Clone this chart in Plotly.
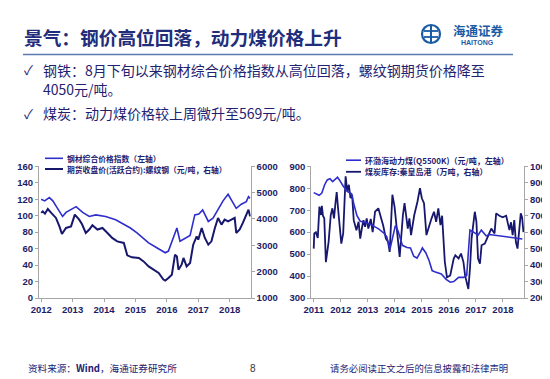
import plotly.graph_objects as go

W, H = 550, 379

# ---------------- data ----------------
# Left chart: time in decimal years
steel_t = [2012.00, 2012.11, 2012.26, 2012.37, 2012.47, 2012.68, 2012.79, 2012.89, 2013.11, 2013.32,
           2013.53, 2013.74, 2014.05, 2014.37, 2014.63, 2014.84, 2015.05, 2015.42, 2015.68, 2015.95,
           2016.05, 2016.21, 2016.32, 2016.42, 2016.58, 2016.74, 2016.89, 2017.02, 2017.14, 2017.32,
           2017.47, 2017.63, 2017.79, 2017.95, 2018.11, 2018.21, 2018.37, 2018.53, 2018.60, 2018.65]
steel_index = [120, 118, 122, 118, 112, 99, 104, 106, 111, 104,
               99, 101, 99, 95, 89, 85, 79, 67, 61, 55,
               57, 75, 85, 69, 73, 76, 101, 102, 107, 93,
               97, 107, 118, 126, 115, 109, 114, 117, 123, 121]

rebar_t = [2012.00, 2012.05, 2012.12, 2012.21, 2012.32, 2012.47, 2012.58, 2012.66, 2012.79, 2012.95,
           2013.07, 2013.21, 2013.30, 2013.42, 2013.53, 2013.63, 2013.79, 2013.95, 2014.11, 2014.26,
           2014.42, 2014.63, 2014.74, 2014.89, 2015.11, 2015.26, 2015.42, 2015.58, 2015.74, 2015.89,
           2015.95, 2016.05, 2016.16, 2016.26, 2016.32, 2016.37, 2016.47, 2016.53, 2016.63, 2016.74,
           2016.84, 2016.95, 2017.00, 2017.11, 2017.21, 2017.32, 2017.42, 2017.53, 2017.63, 2017.74,
           2017.84, 2017.95, 2018.05, 2018.16, 2018.21, 2018.32, 2018.42, 2018.53, 2018.60, 2018.65]
rebar_price = [4230, 4290, 4200, 4380, 4230, 4040, 3720, 3430, 3660, 3720,
               4165, 3975, 3800, 3470, 3600, 3760, 3600, 3660, 3470, 3280,
               3150, 3090, 2620, 2545, 2520, 2390, 2200, 2075, 1950, 1700,
               1660, 1760, 1885, 2645, 2580, 2075, 2265, 2520, 2200, 2330,
               3025, 3340, 3215, 3660, 3280, 3025, 3150, 3660, 4040, 3785,
               3975, 3910, 3975, 4040, 3470, 3600, 3850, 4165, 4355, 4100]

# Right chart
coal_t = [2011.00, 2011.10, 2011.20, 2011.30, 2011.40, 2011.50, 2011.60, 2011.70, 2011.80, 2011.88,
          2011.95, 2012.10, 2012.25, 2012.40, 2012.50, 2012.60, 2012.72, 2012.90, 2013.15, 2013.40,
          2013.60, 2013.70, 2013.82, 2013.92, 2014.02, 2014.12, 2014.28, 2014.45, 2014.58, 2014.70,
          2014.82, 2014.95, 2015.02, 2015.15, 2015.27, 2015.38, 2015.50, 2015.72, 2015.90, 2016.05,
          2016.18, 2016.36, 2016.55, 2016.66, 2016.78, 2016.90, 2017.08, 2017.20, 2017.38, 2017.50,
          2017.70, 2017.93, 2018.18, 2018.42, 2018.72]
coal_price = [780, 772, 768, 778, 815, 838, 843, 830, 842, 850,
              838, 808, 785, 775, 720, 675, 650, 645, 632, 615,
              595, 580, 522, 570, 630, 605, 540, 530, 528, 490,
              482, 510, 528, 505, 470, 425, 418, 410, 385, 372,
              375, 394, 394, 402, 609, 601, 586, 609, 583, 589,
              586, 583, 578, 574, 569]

stock_t = [2011.00, 2011.02, 2011.08, 2011.15, 2011.21, 2011.27, 2011.30, 2011.34, 2011.39, 2011.45,
           2011.55, 2011.63, 2011.69, 2011.75, 2011.81, 2011.85, 2011.90, 2011.97, 2012.02, 2012.09,
           2012.18, 2012.24, 2012.30, 2012.36, 2012.42, 2012.48, 2012.58, 2012.66, 2012.72, 2012.78,
           2012.84, 2012.90, 2012.96, 2013.02, 2013.11, 2013.18, 2013.27, 2013.39, 2013.47, 2013.57,
           2013.67, 2013.75, 2013.81, 2013.91, 2013.99, 2014.08, 2014.18, 2014.30, 2014.36, 2014.48,
           2014.54, 2014.60, 2014.72, 2014.84, 2014.93, 2015.00, 2015.08, 2015.17, 2015.27, 2015.36,
           2015.45, 2015.53, 2015.61, 2015.69, 2015.75, 2015.85, 2015.93, 2016.05, 2016.18, 2016.24,
           2016.36, 2016.45, 2016.54, 2016.60, 2016.66, 2016.72, 2016.78, 2016.84, 2016.90, 2016.96,
           2017.02, 2017.08, 2017.15, 2017.21, 2017.33, 2017.45, 2017.57, 2017.69, 2017.75, 2017.87,
           2017.99, 2018.12, 2018.24, 2018.30, 2018.36, 2018.42, 2018.48, 2018.54, 2018.60, 2018.66,
           2018.71, 2018.76]
stock_volume = [500, 592, 600, 565, 755, 704, 760, 700, 684, 418,
                541, 704, 745, 684, 786, 843, 745, 582, 530, 592,
                939, 847, 888, 806, 827, 673, 612, 663, 561, 622,
                673, 633, 684, 622, 680, 600, 724, 745, 700, 640,
                560, 541, 480, 827, 755, 620, 450, 704, 776, 622,
                684, 582, 704, 786, 867, 806, 776, 582, 643, 684,
                724, 663, 745, 643, 700, 420, 326, 337, 439, 459,
                440, 470, 418, 337, 296, 255, 378, 561, 643, 724,
                663, 439, 408, 520, 530, 582, 622, 592, 714, 700,
                690, 700, 612, 660, 582, 673, 540, 500, 600, 714,
                690, 600]

left_years = [2012, 2013, 2014, 2015, 2016, 2017, 2018]
right_years = [2011, 2012, 2013, 2014, 2015, 2016, 2017, 2018]
left_y_ticks = [0, 20, 40, 60, 80, 100, 120, 140, 160]
left_y2_ticks = [1000, 2000, 3000, 4000, 5000, 6000]
right_y_ticks = [300, 400, 500, 600, 700, 800, 900]
right_y2_ticks = [200, 300, 400, 500, 600, 700, 800, 900, 1000]

steel_name = "钢材综合价格指数（左轴）"
rebar_name = "期货收盘价(活跃合约):螺纹钢（元/吨，右轴）"
coal_name = "环渤海动力煤(Q5500K)（元/吨，左轴）"
stock_name = "煤炭库存:秦皇岛港（万吨，右轴）"

# ---------------- styling ----------------
C_LIGHT = "#2E2ECC"
C_DARK = "#17176E"
C_TICK = "#1C1C66"
C_AXIS = "#A6A6A6"
C_TEXT = "#1F2270"
CJK = "Noto Sans CJK SC, DejaVu Sans"
LAT = "Liberation Sans, Arial"


def px(x):
    return x / W


def py(y):
    return 1 - y / H


fig = go.Figure()
fig.add_trace(go.Scatter(x=steel_t, y=steel_index, xaxis="x", yaxis="y", mode="lines",
                         line=dict(color=C_LIGHT, width=1.6), name=steel_name))
fig.add_trace(go.Scatter(x=rebar_t, y=rebar_price, xaxis="x", yaxis="y2", mode="lines",
                         line=dict(color=C_DARK, width=2), name=rebar_name))
fig.add_trace(go.Scatter(x=stock_t, y=stock_volume, xaxis="x2", yaxis="y3", mode="lines",
                         line=dict(color=C_DARK, width=1.8), name=stock_name))
fig.add_trace(go.Scatter(x=coal_t, y=coal_price, xaxis="x2", yaxis="y4", mode="lines",
                         line=dict(color=C_LIGHT, width=1.6), name=coal_name))

tickfont = dict(family=LAT, size=9.5, color=C_TICK, weight="bold")
axis_common = dict(showgrid=False, zeroline=False, showline=True, linecolor=C_AXIS, linewidth=1,
                   ticks="outside", ticklen=3, tickcolor=C_AXIS, tickfont=tickfont,
                   fixedrange=True, automargin=False)

ld = [px(31), px(242.7)]
rd = [px(303.3), px(516)]
yd = [py(290), py(158.3)]

fig.update_layout(
    template="none",
    width=W, height=H, margin=dict(l=0, r=0, t=0, b=0, pad=0),
    paper_bgcolor="white", plot_bgcolor="white", showlegend=False,
    xaxis=dict(domain=ld, range=[2011.93, 2018.67], tickvals=left_years,
               ticktext=[str(v) for v in left_years], anchor="y", **axis_common),
    yaxis=dict(domain=yd, range=[0, 160], tickvals=left_y_ticks, anchor="x", **axis_common),
    yaxis2=dict(range=[1000, 6000], tickvals=left_y2_ticks, overlaying="y", side="right",
                anchor="x", **axis_common),
    xaxis2=dict(domain=rd, range=[2010.91, 2018.78], tickvals=right_years,
                ticktext=[str(v) for v in right_years], anchor="y3", **axis_common),
    yaxis3=dict(domain=yd, range=[200, 1000], tickvals=right_y2_ticks, side="right",
                anchor="x2", **axis_common),
    yaxis4=dict(range=[300, 900], tickvals=right_y_ticks, overlaying="y3", side="left",
                anchor="x2", **axis_common),
)

shapes = []
annotations = []


def text(x, y, s, size, color=C_TEXT, family=CJK, anchor="left", weight="normal"):
    annotations.append(dict(x=px(x), y=py(y), xref="paper", yref="paper", text=s, showarrow=False,
                            xanchor=anchor, yanchor="middle",
                            font=dict(family=family, size=size, color=color, weight=weight)))


def hline(x0, x1, y, color, width):
    shapes.append(dict(type="line", xref="paper", yref="paper", x0=px(x0), x1=px(x1),
                       y0=py(y), y1=py(y), line=dict(color=color, width=width)))


# Title and rule
text(14, 29, "景气：钢价高位回落，动力煤价格上升", 18.7, color="#1F2D7B", weight="bold")
hline(15, 505, 46.5, "#5C78B0", 1.5)

# Logo
LOGO = "#1A5BA6"
shapes.append(dict(type="circle", xref="paper", yref="paper", x0=px(414), x1=px(432),
                   y0=py(35), y1=py(17), line=dict(color=LOGO, width=2.2)))
shapes.append(dict(type="line", xref="paper", yref="paper", x0=px(423), x1=px(423),
                   y0=py(18), y1=py(34), line=dict(color=LOGO, width=2)))
shapes.append(dict(type="line", xref="paper", yref="paper", x0=px(416), x1=px(430),
                   y0=py(23), y1=py(23), line=dict(color=LOGO, width=1.8)))
shapes.append(dict(type="line", xref="paper", yref="paper", x0=px(416), x1=px(430),
                   y0=py(29), y1=py(29), line=dict(color=LOGO, width=1.8)))
text(443, 22.5, "海通证券", 12.5, color=LOGO, weight="bold")
text(469, 35, "HAITONG", 7, color=LOGO, family=LAT, anchor="center", weight="bold")

# Bullets
text(14, 62, "✓", 13, color=C_TEXT)
text(33, 62, "钢铁：8月下旬以来钢材综合价格指数从高位回落，螺纹钢期货价格降至", 14)
text(33, 81, "4050元/吨。", 14)
text(14, 105, "✓", 13, color=C_TEXT)
text(33, 105, "煤炭：动力煤价格较上周微升至569元/吨。", 14)

# Legends
hline(37, 55, 150.3, C_LIGHT, 1.6)
text(57, 150.3, steel_name, 7.8, weight="bold")
hline(37, 55, 161, C_DARK, 2)
text(57, 161, rebar_name, 7.8, weight="bold")
hline(338, 353, 152.2, C_LIGHT, 1.6)
text(355, 152.2, coal_name, 8, weight="bold")
hline(338, 353, 163.8, C_DARK, 1.8)
text(355, 163.8, stock_name, 8, weight="bold")

# Footer
text(18, 360, "资料来源：<b>Wind</b>，海通证券研究所", 9.6)
text(245, 360, "8", 10, family=LAT, color="#333333", anchor="center")
text(502, 360, "请务必阅读正文之后的信息披露和法律声明", 9.4, anchor="right")

fig.update_layout(shapes=shapes, annotations=annotations)
fig.write_html("out.html")
